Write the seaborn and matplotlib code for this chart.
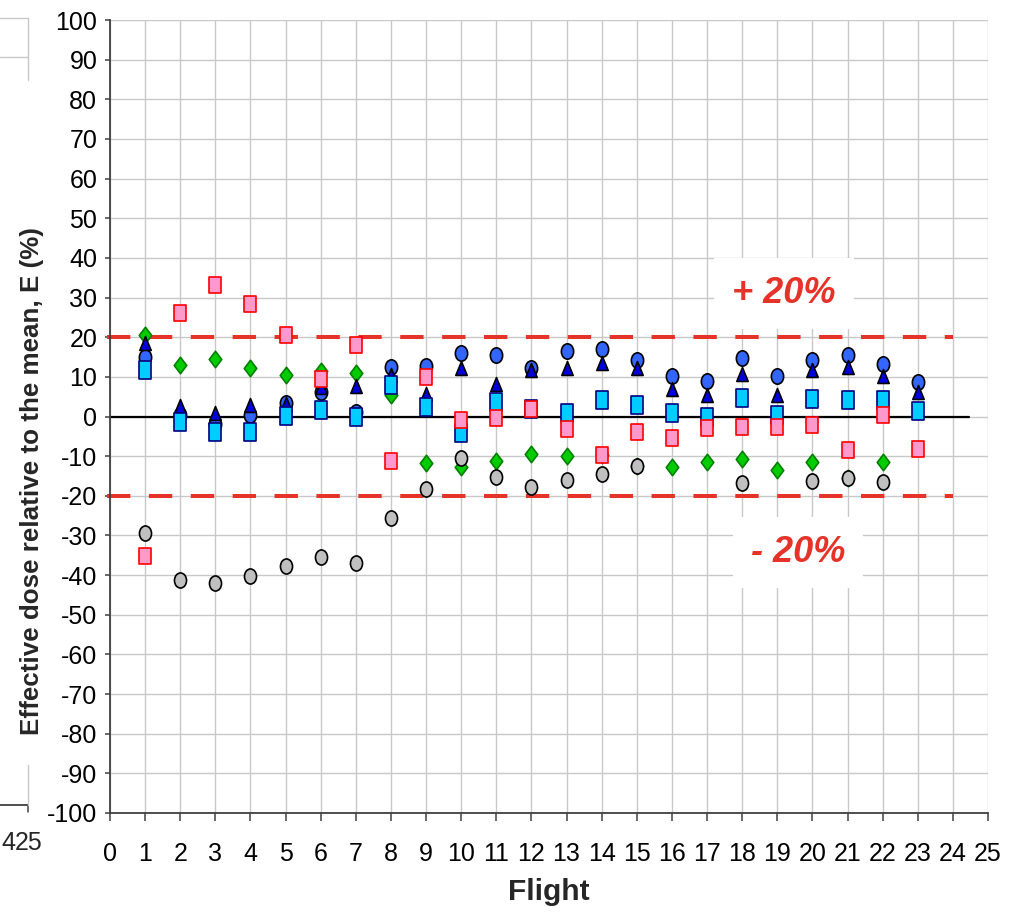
import numpy as np
import matplotlib
matplotlib.use("Agg")
import matplotlib.pyplot as plt
from matplotlib.path import Path
from matplotlib.lines import Line2D
import seaborn as sns

nan = np.nan

# Data
flights = list(range(1, 24))
blue_circles = [14.9, 0.4, -1.9, 0.4, 3.5, 6.3, 1.2, 12.6, 12.7, 16.0, 15.5, 12.2,
                16.6, 16.9, 14.2, 10.2, 9.0, 14.7, 10.2, 14.2, 15.5, 13.2, 8.8]
blue_triangles = [18.5, 2.6, 0.8, 2.9, 3.2, 7.4, 7.7, 10.5, 5.7, 12.2, 8.2, 11.7,
                  12.2, 13.4, 12.2, 6.9, 5.4, 10.7, 5.4, 11.7, 12.6, 10.2, 6.3]
cyan_squares = [11.7, -1.3, -3.8, -3.8, 0.1, 1.6, -0.2, 7.9, 2.4, -4.2, 3.6, 1.8,
                0.8, 4.2, 2.9, 0.8, 0.0, 4.6, 0.4, 4.3, 4.2, 4.2, 1.4]
pink_squares = [-35.2, 26.0, 33.2, 28.4, 20.6, 9.4, 18.0, -11.1, 10.0, -0.9, -0.5, 1.8,
                -3.2, -9.7, -3.8, -5.3, -3.0, -2.6, -2.6, -2.2, -8.4, 0.4, -8.2]
green_diamonds = [20.6, 13.0, 14.4, 12.2, 10.5, 11.6, 10.9, 5.4, -11.7, -12.7, -11.2, -9.5,
                  -10.0, -9.8, -12.5, -12.8, -11.4, -10.8, -13.5, -11.6, -15.5, -11.6, nan]
grey_circles = [-29.5, -41.2, -42.1, -40.2, -37.7, -35.4, -36.9, -25.6, -18.3, -10.4, -15.2, -17.9,
                -16.0, -14.5, -12.5, nan, nan, -16.7, nan, -16.2, -15.6, -16.6, nan]

limit = 20
x_ticks = list(range(0, 26))
y_ticks = list(range(-100, 101, 10))

sns.set_theme(style="white")
tick_font = ["Liberation Sans Narrow", "Liberation Sans", "DejaVu Sans"]
label_font = ["Liberation Sans", "DejaVu Sans"]
plt.rcParams["font.family"] = tick_font
plt.rcParams["axes.unicode_minus"] = False

# the reference is squeezed horizontally, so markers are slightly narrow
def ellipse(ratio):
    circ = Path.unit_circle()
    return Path(circ.vertices * [ratio, 1.0], circ.codes)

def poly(pts):
    pts = pts + [pts[0]]
    codes = [Path.MOVETO] + [Path.LINETO] * (len(pts) - 2) + [Path.CLOSEPOLY]
    return Path(pts, codes)

circle_m = ellipse(0.8)
square_m = poly([(-0.36, -0.5), (0.36, -0.5), (0.36, 0.5), (-0.36, 0.5)])
diamond_m = poly([(0, -0.5), (0.38, 0), (0, 0.5), (-0.38, 0)])
triangle_m = poly([(-0.41, -0.5), (0.41, -0.5), (0, 0.5)])

fig = plt.figure(figsize=(10.14, 9.14), dpi=100)
ax = fig.add_axes([110 / 1014, 1 - 813 / 914, 878 / 1014, 793 / 914])

grid_c = "#c8c8c8"
for xv in x_ticks:
    ax.axvline(xv, color=grid_c, lw=1.0, zorder=0)
for yv in y_ticks:
    ax.axhline(yv, color=grid_c, lw=1.0, zorder=0)

# reference lines
ax.plot([0, 24.45], [0, 0], color="black", lw=1.6, zorder=2)
for lv in (limit, -limit):
    ax.plot([-0.094, 24.0], [lv, lv], color="#e63329", lw=2.9,
            linestyle=(0, (5.8, 4.6)), solid_capstyle="butt",
            dash_capstyle="butt", zorder=2, clip_on=False)

series = [
    (green_diamonds, diamond_m, 140, "#00cc00", "#008000"),
    (grey_circles, circle_m, 118, "#c0c0c0", "black"),
    (blue_circles, circle_m, 122, "#3366ff", "black"),
    (blue_triangles, triangle_m, 100, "#0000dd", "black"),
    (cyan_squares, square_m, 150, "#00ccff", "#000080"),
    (pink_squares, square_m, 135, "#ff99cc", "#ff0000"),
]
for i, (vals, mk, size, fc, ec) in enumerate(series):
    sns.scatterplot(x=flights, y=vals, marker=mk, s=size, color=fc,
                    edgecolor=ec, linewidth=1.2, zorder=3 + i, ax=ax)

ax.set_xlim(0, 25)
ax.set_ylim(-100, 100)
ax.set_xticks(x_ticks)
ax.set_yticks(y_ticks)
ax.tick_params(axis="x", direction="out", length=5.8, width=1.1, color="#404040",
               pad=15, labelsize=18, labelcolor="black", bottom=True)
ax.tick_params(axis="y", direction="out", length=3.6, width=1.1, color="#404040",
               pad=5.5, labelsize=18, labelcolor="black", left=True)
for side in ("top", "right"):
    ax.spines[side].set_visible(False)
for side in ("left", "bottom"):
    ax.spines[side].set_color("#404040")
    ax.spines[side].set_linewidth(1.3)

ax.set_xlabel("Flight", fontsize=21.5, fontweight="bold", family=label_font)
ax.set_ylabel("Effective dose relative to the mean, E (%)", fontsize=18.7,
              fontweight="bold", family=label_font)
ax.xaxis.set_label_coords(0.5, -0.082)
ax.yaxis.set_label_coords(-0.0757, 0.418)

box = dict(facecolor="white", edgecolor="none", pad=13)
ax.text(19.19, 31.1, "+ 20%", color="#e63329", fontsize=26, fontweight="bold",
        fontstyle="italic", ha="center", va="center", family=label_font,
        bbox=box, zorder=2.5)
ax.text(19.59, -34.4, "- 20%", color="#e63329", fontsize=26, fontweight="bold",
        fontstyle="italic", ha="center", va="center", family=label_font,
        bbox=box, zorder=2.5)

# fragment of the neighbouring chart at the left edge
fig.text(29 / 1014, 1 - 843 / 914, "25", fontsize=18, ha="center", va="center")
fig.text(1 / 1014, 1 - 843 / 914, "4", fontsize=18, ha="left", va="center")
fig.add_artist(Line2D([0, 28 / 1014], [1 - 805 / 914] * 2, color="#404040", lw=1.3))
fig.add_artist(Line2D([28 / 1014] * 2, [1 - 805 / 914, 1 - 812 / 914], color="#404040", lw=1.1))
fig.add_artist(Line2D([28 / 1014] * 2, [1 - 18 / 914, 1 - 80 / 914], color=grid_c, lw=1.0))
fig.add_artist(Line2D([0, 28 / 1014], [1 - 18 / 914] * 2, color=grid_c, lw=1.0))
fig.add_artist(Line2D([0, 28 / 1014], [1 - 57 / 914] * 2, color=grid_c, lw=1.0))
fig.add_artist(Line2D([28 / 1014] * 2, [1 - 765 / 914, 1 - 805 / 914], color=grid_c, lw=1.0))

fig.savefig("out.png", dpi=100)
